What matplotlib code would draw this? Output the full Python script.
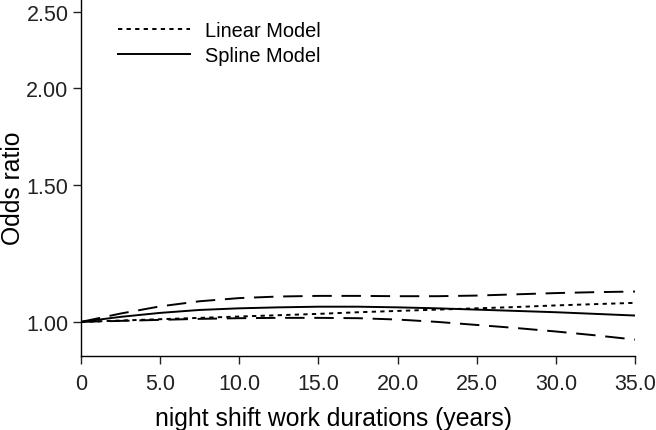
import matplotlib
matplotlib.use("Agg")
import matplotlib.pyplot as plt
from matplotlib.ticker import FixedLocator, FixedFormatter, NullLocator

plt.rcParams['font.family'] = ['Liberation Sans', 'DejaVu Sans']

years = [0, 2.5, 5, 7.5, 10, 12.5, 15, 17.5, 20, 22.5, 25, 27.5, 30, 32.5, 35]
linear_or = [1.000, 1.004, 1.008, 1.012, 1.016, 1.020, 1.024, 1.029, 1.033, 1.037, 1.041, 1.045, 1.050, 1.054, 1.058]
spline_or = [1.000, 1.015, 1.027, 1.036, 1.041, 1.044, 1.046, 1.046, 1.044, 1.041, 1.037, 1.033, 1.029, 1.024, 1.019]
spline_upper = [1.000, 1.025, 1.047, 1.063, 1.073, 1.078, 1.080, 1.080, 1.079, 1.079, 1.081, 1.085, 1.089, 1.092, 1.094]
spline_lower = [1.000, 1.003, 1.006, 1.009, 1.011, 1.012, 1.012, 1.011, 1.007, 1.000, 0.991, 0.982, 0.972, 0.961, 0.949]

xticks = [0, 5, 10, 15, 20, 25, 30, 35]
xtick_labels = ["0", "5.0", "10.0", "15.0", "20.0", "25.0", "30.0", "35.0"]
yticks = [1.0, 1.5, 2.0, 2.5]
ytick_labels = ["1.00", "1.50", "2.00", "2.50"]

fig = plt.figure(figsize=(6.56, 4.31), dpi=100)
ax = fig.add_axes([81/656, 74/431, (635-81)/656, 1 - 74/431])

lw = 1.4
ax.plot(years, linear_or, color='black', lw=lw, linestyle=(0, (2.2, 2.2)), label='Linear Model')
ax.plot(years, spline_or, color='black', lw=lw, linestyle='-', label='Spline Model')
ax.plot(years, spline_upper, color='black', lw=lw, linestyle=(0, (10, 5)))
ax.plot(years, spline_lower, color='black', lw=lw, linestyle=(0, (10, 5)))

ax.set_yscale('log')
ax.set_xlim(0, 35)
ax.set_ylim(0.904, 2.6)
ax.yaxis.set_major_locator(FixedLocator(yticks))
ax.yaxis.set_major_formatter(FixedFormatter(ytick_labels))
ax.yaxis.set_minor_locator(NullLocator())
ax.set_xticks(xticks)
ax.set_xticklabels(xtick_labels)

for s in ['top', 'right']:
    ax.spines[s].set_visible(False)
for s in ['left', 'bottom']:
    ax.spines[s].set_linewidth(1.0)

ax.tick_params(axis='both', direction='out', length=6, width=1.0, labelsize=15.5, colors='#222222')
ax.tick_params(axis='x', pad=6)
ax.tick_params(axis='y', pad=3)

ax.set_xlabel('night shift work durations (years)', fontsize=17.8)
ax.set_ylabel('Odds ratio', fontsize=17.8)
ax.xaxis.set_label_coords((157 + 510) / 2 / 656, 1 - 419 / 431, transform=fig.transFigure)
ax.xaxis.label.set_va('center')
ax.yaxis.set_label_coords(13 / 656, 1 - 188 / 431, transform=fig.transFigure)
ax.yaxis.label.set_va('center')

leg = ax.legend(loc='upper left', bbox_to_anchor=(37 / 554, 1 - 22 / 357), frameon=False,
                fontsize=14.4, handlelength=3.6, handletextpad=0.75, labelspacing=0.3,
                borderaxespad=0, borderpad=0)

fig.savefig('out.png', dpi=100)
